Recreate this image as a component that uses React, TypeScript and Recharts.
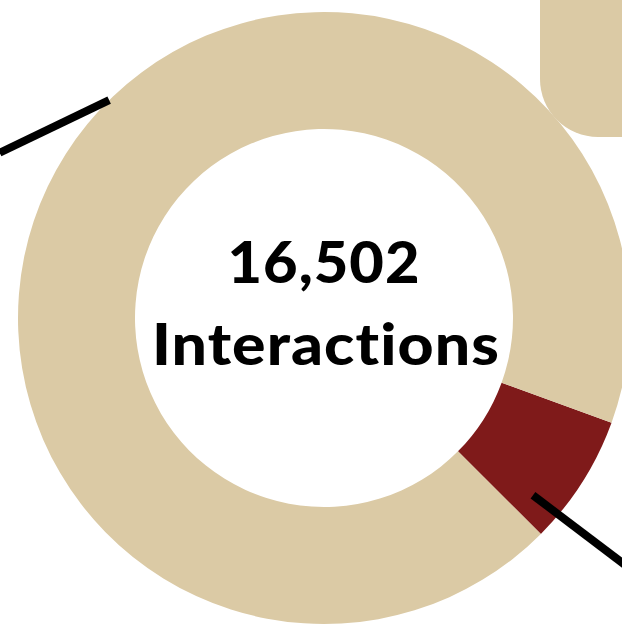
import { Pie, PieChart, Cell } from "recharts";

// slices, clockwise from the red wedge
const segments = ["Highlighted", "Other"];
const interactions = [1140, 15362];
const colors = ["#7f1a1a", "#dbcaa5"];
const totalLabel = "16,502";
const captionLabel = "Interactions";

const data = segments.map((name, i) => ({ name, value: interactions[i] }));

const CX = 324;
const CY = 318;
const INNER = 189;
const OUTER = 306;
const START = -20;

// point on a circle around the pie centre, angle in degrees (clockwise from 3 o'clock)
const polar = (r: number, deg: number) => {
  const a = (deg * Math.PI) / 180;
  return { x: CX + r * Math.cos(a), y: CY + r * Math.sin(a) };
};

const Overlay = () => {
  const a1 = polar(306, 225.4);
  const a2 = polar(364, 207);
  const b1 = polar(274, 40.3);
  const b2 = polar(400, 39.3);
  return (
    <svg
      width={622}
      height={627}
      style={{ position: "absolute", left: 0, top: 0, pointerEvents: "none" }}
    >
      <line x1={a1.x} y1={a1.y} x2={a2.x} y2={a2.y} stroke="#000" strokeWidth={8} />
      <line x1={b1.x} y1={b1.y} x2={b2.x} y2={b2.y} stroke="#000" strokeWidth={8} />
      {/* letter spacing keeps the "ti" ligature off */}
      <g
        fontFamily="Lato, sans-serif"
        fontWeight={900}
        fill="#000"
        textAnchor="middle"
        letterSpacing={1}
        style={{ fontVariantLigatures: "none" }}
      >
        <text x={CX} y={CY - 35} fontSize={58} textLength={193} lengthAdjust="spacingAndGlyphs">
          {totalLabel}
        </text>
        <text x={CX + 2} y={CY + 47} fontSize={58} textLength={348} lengthAdjust="spacingAndGlyphs">
          {captionLabel}
        </text>
      </g>
    </svg>
  );
};

const App = () => {
  return (
    <div style={{ position: "absolute", left: 0, top: 0, width: 622, height: 627, background: "#fff" }}>
      <svg width={622} height={627} style={{ position: "absolute", left: 0, top: 0 }}>
        <rect x={540} y={-60} width={140} height={197} rx={58} fill="#dbcaa5" />
      </svg>
      <div style={{ position: "absolute", left: 0, top: 0 }}>
        <PieChart width={622} height={627} margin={{ top: 0, right: 0, bottom: 0, left: 0 }}>
          <Pie
            data={data}
            dataKey="value"
            nameKey="name"
            cx={CX}
            cy={CY}
            innerRadius={INNER}
            outerRadius={OUTER}
            startAngle={START}
            endAngle={START - 360}
            stroke="none"
            isAnimationActive={false}
          >
            {data.map((d, i) => (
              <Cell key={d.name} fill={colors[i]} />
            ))}
          </Pie>
        </PieChart>
      </div>
      <Overlay />
    </div>
  );
};

export default App;
